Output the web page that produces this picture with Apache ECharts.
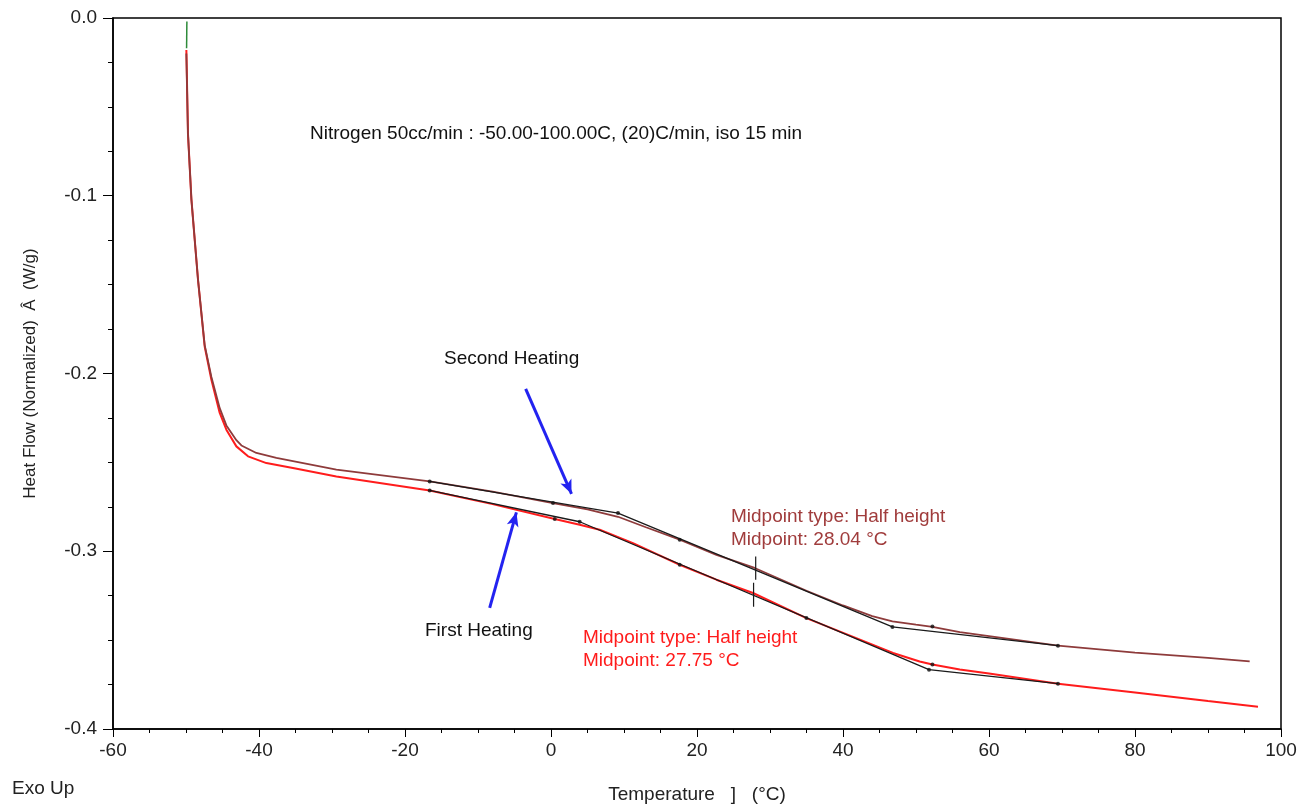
<!DOCTYPE html>
<html>
<head>
<meta charset="utf-8">
<title>DSC heat flow</title>
<script src="https://cdn.jsdelivr.net/npm/echarts@6/dist/echarts.min.js"></script>
<style>
    html, body { margin: 0; padding: 0; background: #fff; }
    #dsc_graph { width: 1316px; height: 812px; }
</style>
</head>
<body>
<div id="dsc_graph"></div>
<script>
// first heating (red)
let firstTemp = [-49.95, -49.73, -49.26, -48.36, -47.44, -46.52, -45.38, -44.47, -43.10, -41.50, -38.99, -35.00, -29.40, -16.62, -8.00, 0.51, 3.93, 6.67, 11.23, 17.63, 22.66, 27.67, 34.99, 46.85, 50.50, 52.25, 56.00, 60.00, 69.45, 80.00, 90.00, 96.85];
let firstFlow = [-0.018, -0.065, -0.102, -0.147, -0.1848, -0.2035, -0.2222, -0.2316, -0.241, -0.2466, -0.2504, -0.2535, -0.2579, -0.2658, -0.2735, -0.2819, -0.2851, -0.2879, -0.2954, -0.3076, -0.316, -0.3235, -0.3376, -0.3572, -0.362, -0.3637, -0.3665, -0.3688, -0.3745, -0.3795, -0.3843, -0.3875];

// second heating (dark red)
let secondTemp = [-49.95, -49.73, -49.26, -48.36, -47.44, -46.52, -45.38, -44.47, -43.10, -42.41, -40.36, -37.62, -29.40, -16.62, -8.00, 0.27, 5.00, 9.18, 13.00, 17.63, 22.66, 27.90, 35.00, 40.00, 44.00, 46.77, 50.00, 52.25, 56.00, 60.00, 69.45, 80.00, 90.00, 95.71];
let secondFlow = [-0.020, -0.065, -0.102, -0.147, -0.184, -0.202, -0.2195, -0.2292, -0.2375, -0.2405, -0.2447, -0.2475, -0.2541, -0.2607, -0.2665, -0.2729, -0.2765, -0.2806, -0.2865, -0.2935, -0.302, -0.3094, -0.3222, -0.3305, -0.3365, -0.3395, -0.3413, -0.3425, -0.3455, -0.3478, -0.3531, -0.357, -0.360, -0.362];

// analysis construction lines and points
let firstTangent = [[-16.62, -0.2658], [3.93, -0.2834], [51.78, -0.3666], [69.45, -0.3745]];
let firstPoints = [[-16.62, -0.2658], [0.51, -0.2819], [3.93, -0.2834], [17.63, -0.3076], [34.99, -0.3376], [51.78, -0.3666], [52.25, -0.3637], [69.45, -0.3745]];
let secondTangent = [[-16.62, -0.2607], [9.18, -0.2785], [46.77, -0.3426], [69.45, -0.3531]];
let secondPoints = [[-16.62, -0.2607], [0.27, -0.2729], [9.18, -0.2785], [17.63, -0.2935], [46.77, -0.3426], [52.25, -0.3423], [69.45, -0.3531]];
let firstMidTick = [[27.75, -0.3177], [27.75, -0.3312]];
let secondMidTick = [[28.04, -0.3029], [28.04, -0.3160]];
let startSegment = [[-49.88, -0.002], [-49.92, -0.017]];

// arrows [from, to]
let secondArrow = [[-3.47, -0.2087], [2.81, -0.2677]];
let firstArrow = [[-8.40, -0.3319], [-4.74, -0.2781]];

let xTicks = { min: -60, max: 100, interval: 20 };
let yTicks = { min: -0.4, max: 0, interval: 0.1 };

var dscGraph = function () {
    let chart = null;
    let font = "'Liberation Sans', Arial, sans-serif";

    function zip(xs, ys) {
        let out = [];
        for (let i = 0; i < xs.length; i++) {
            out.push([xs[i], ys[i]]);
        }
        return out;
    }

    function lineSeries(data, color, width, z) {
        return {
            type: 'line',
            data: data,
            showSymbol: false,
            z: z,
            lineStyle: { color: color, width: width },
            silent: true
        };
    }

    function arrowSeries(pair) {
        return {
            type: 'line',
            data: [],
            markLine: {
                silent: true,
                symbol: ['none', 'arrow'],
                symbolSize: [9, 14],
                label: { show: false },
                lineStyle: { color: '#2323f0', width: 3, type: 'solid' },
                data: [[{ coord: pair[0] }, { coord: pair[1] }]]
            }
        };
    }

    function text(left, top, str, color) {
        return {
            type: 'text',
            left: left,
            top: top,
            style: { text: str, fill: color, font: '19px ' + font }
        };
    }

    function drawGraph() {
        let option = {
            animation: false,
            backgroundColor: '#fff',
            grid: {
                left: 113, right: 35, top: 18, bottom: 83,
                show: true, borderColor: '#000', borderWidth: 1.5
            },
            xAxis: {
                type: 'value',
                min: xTicks.min, max: xTicks.max, interval: xTicks.interval,
                name: 'Temperature   ]   (°C)',
                nameLocation: 'middle',
                nameGap: 56,
                nameTextStyle: { fontSize: 19, color: '#222', fontFamily: font },
                axisLine: { onZero: false, lineStyle: { color: '#000', width: 1.5 } },
                axisTick: { length: 8, lineStyle: { color: '#000' } },
                minorTick: { show: true, splitNumber: 4, length: 4, lineStyle: { color: '#000' } },
                splitLine: { show: false },
                axisLabel: { fontSize: 19, color: '#222', fontFamily: font, margin: 12 }
            },
            yAxis: {
                type: 'value',
                min: yTicks.min, max: yTicks.max, interval: yTicks.interval,
                name: 'Heat Flow (Normalized)  Â  (W/g)',
                nameLocation: 'middle',
                nameGap: 74,
                nameTextStyle: { fontSize: 17, color: '#222', fontFamily: font },
                axisLine: { onZero: false, lineStyle: { color: '#000', width: 1.5 } },
                axisTick: { length: 10, lineStyle: { color: '#000' } },
                minorTick: { show: true, splitNumber: 4, length: 5, lineStyle: { color: '#000' } },
                splitLine: { show: false },
                axisLabel: {
                    fontSize: 19, color: '#222', fontFamily: font, margin: 16,
                    formatter: function (v) { return v.toFixed(1); }
                }
            },
            series: [
                lineSeries(zip(firstTemp, firstFlow), '#ff1c1c', 2, 2),
                lineSeries(zip(secondTemp, secondFlow), '#8e3b3b', 1.8, 3),
                lineSeries(startSegment, '#2e8b3a', 1.5, 4),
                lineSeries(firstTangent, '#1a1a1a', 1.3, 5),
                lineSeries(secondTangent, '#1a1a1a', 1.3, 5),
                lineSeries(firstMidTick, '#1a1a1a', 1.2, 5),
                lineSeries(secondMidTick, '#1a1a1a', 1.2, 5),
                {
                    type: 'scatter',
                    data: firstPoints.concat(secondPoints),
                    symbolSize: 4,
                    z: 6,
                    itemStyle: { color: '#111' },
                    silent: true
                },
                arrowSeries(secondArrow),
                arrowSeries(firstArrow)
            ],
            graphic: [
                text(310, 124, 'Nitrogen 50cc/min : -50.00-100.00C, (20)C/min, iso 15 min', '#111'),
                text(444, 349, 'Second Heating', '#111'),
                text(425, 621, 'First Heating', '#111'),
                text(731, 507, 'Midpoint type: Half height', '#a03c3c'),
                text(731, 530, 'Midpoint: 28.04 °C', '#a03c3c'),
                text(583, 628, 'Midpoint type: Half height', '#ff1c1c'),
                text(583, 651, 'Midpoint: 27.75 °C', '#ff1c1c'),
                text(12, 779, 'Exo Up', '#222')
            ]
        };
        chart.setOption(option);
    }

    function init() {
        chart = echarts.init(document.getElementById('dsc_graph'));
        drawGraph();
    }

    init();
    return { chart: chart };
}();
</script>
</body>
</html>
